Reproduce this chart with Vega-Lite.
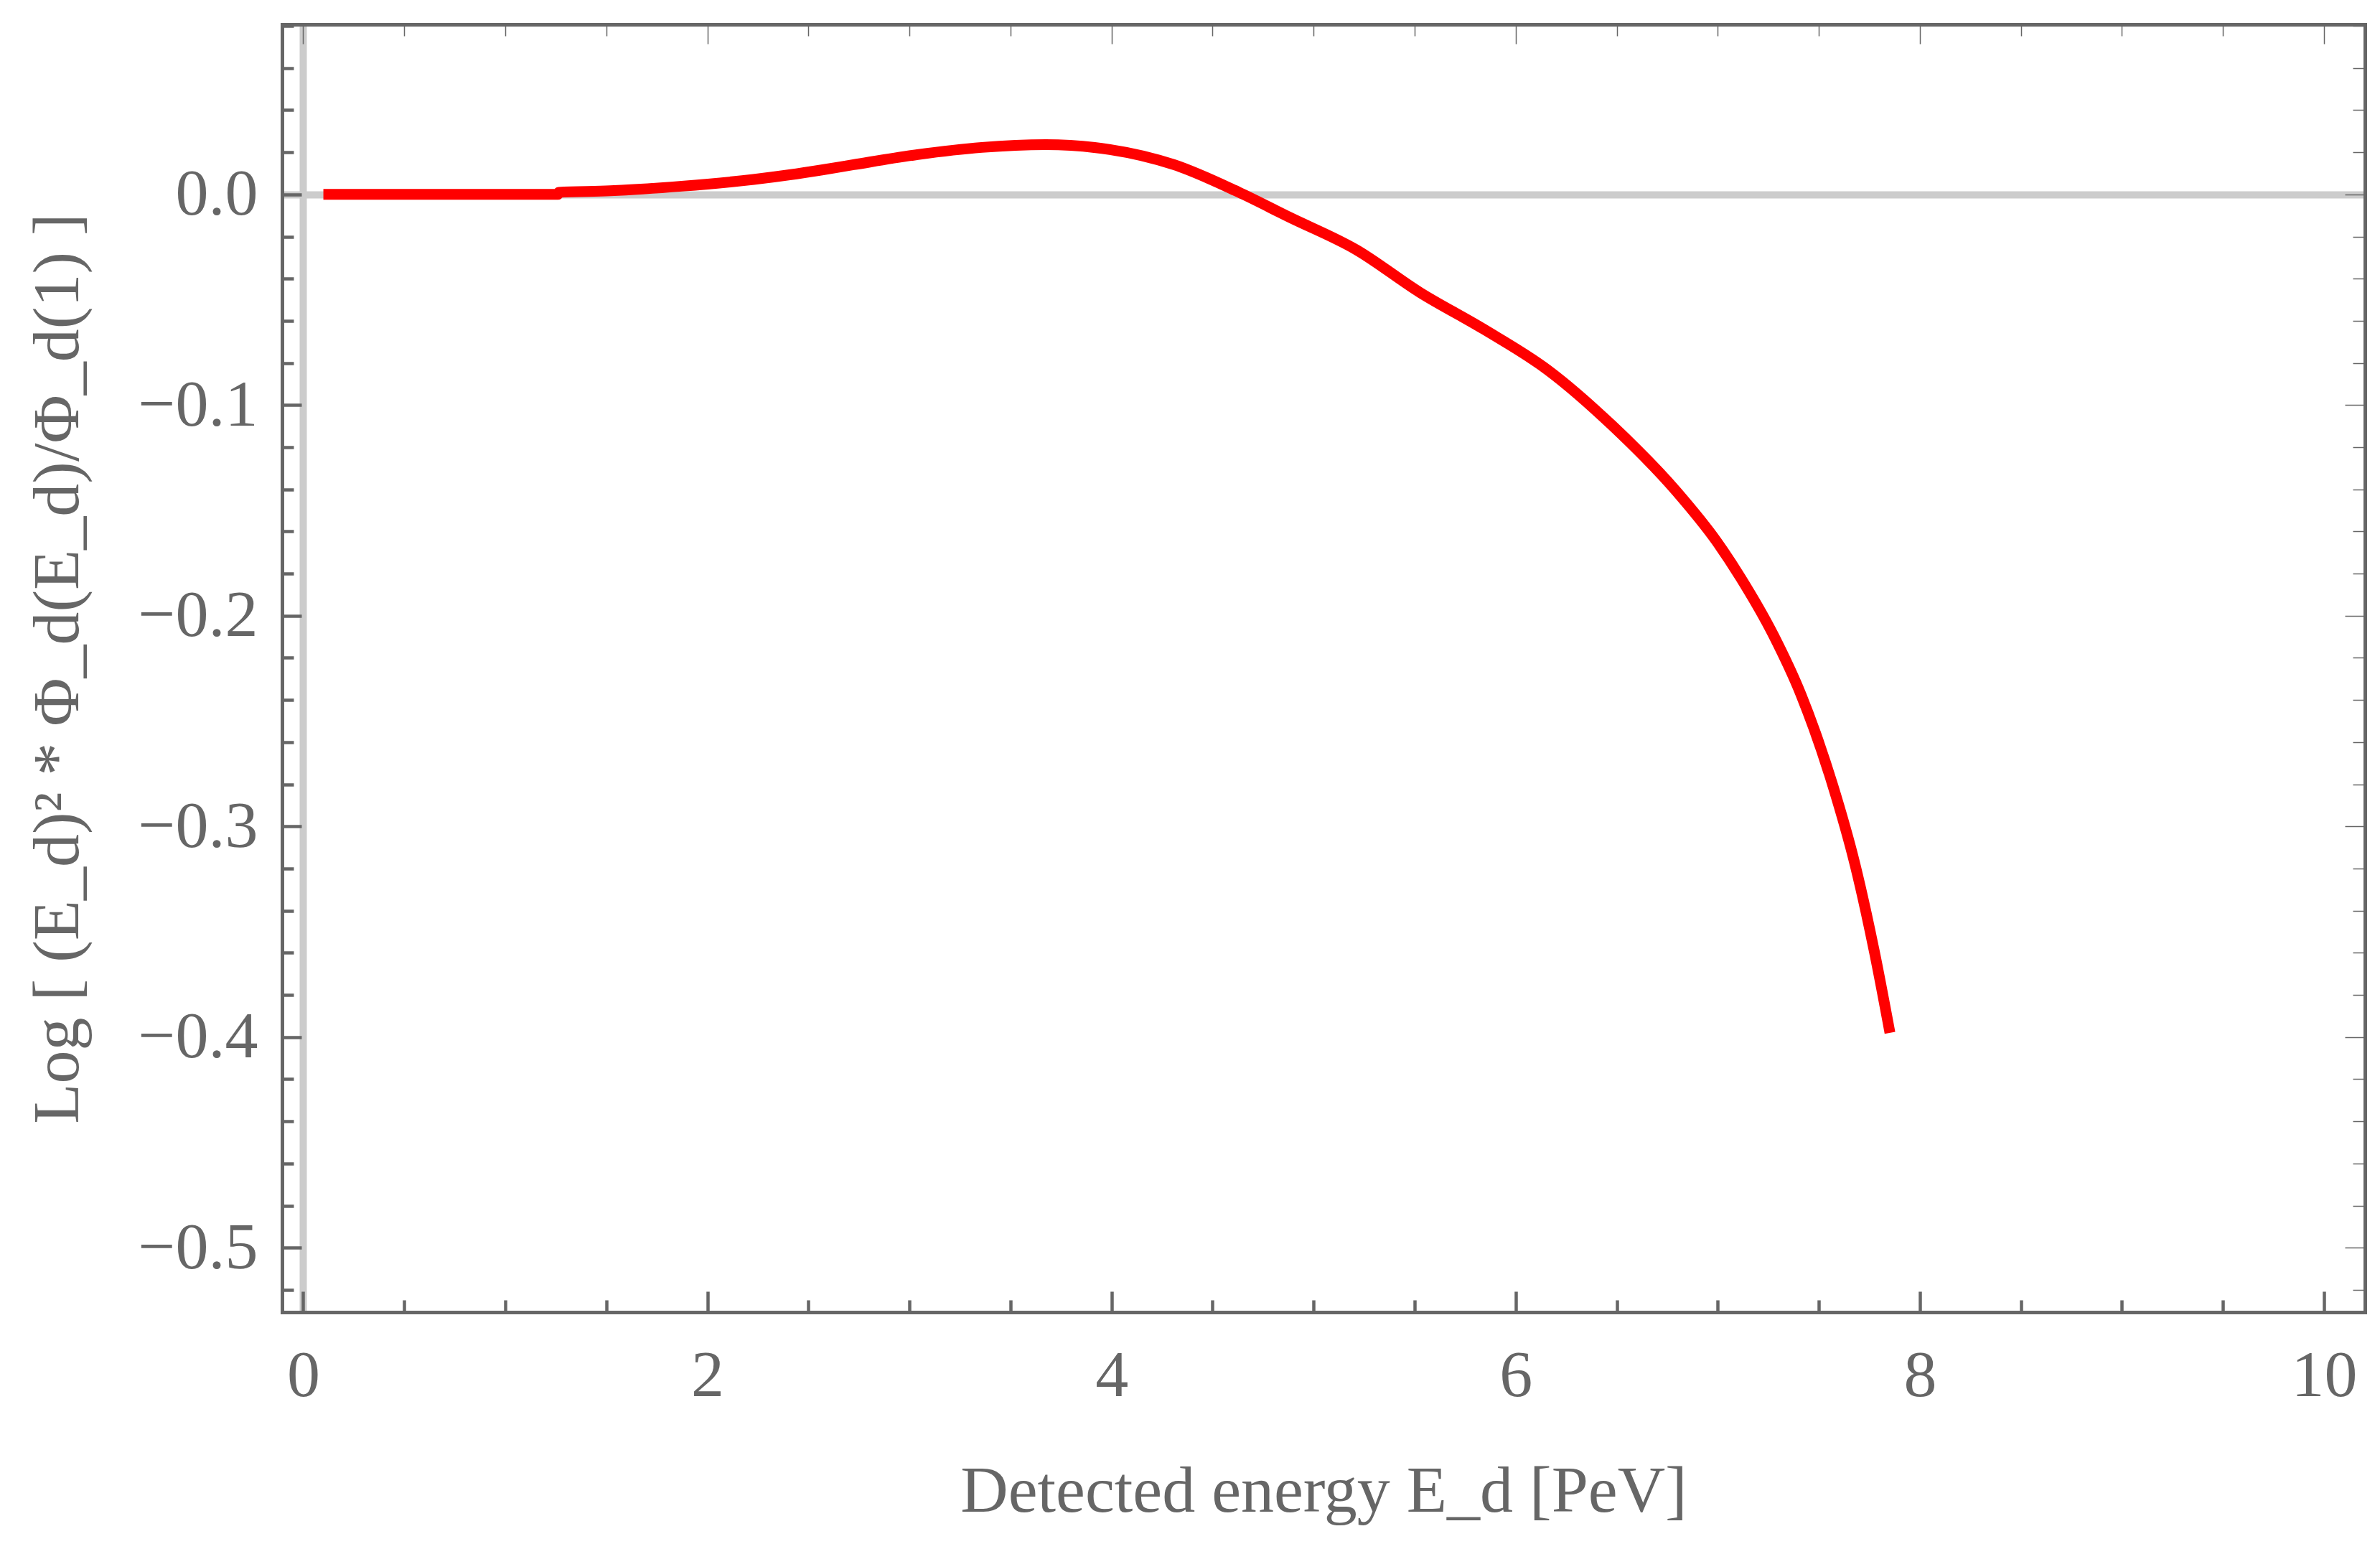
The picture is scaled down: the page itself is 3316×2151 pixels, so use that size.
{
  "$schema": "https://vega.github.io/schema/vega-lite/v6.json",
  "background": "white",
  "autosize": {"type": "none"},
  "padding": {"left": 393, "top": 34, "right": 21, "bottom": 323},
  "width": 2902,
  "height": 1794,
  "data": {
    "values": [
      {"E": 0.1, "v": 0.0},
      {"E": 0.7, "v": 0.0},
      {"E": 1.26, "v": 0.0},
      {"E": 1.265, "v": 0.001},
      {"E": 1.519, "v": 0.0017},
      {"E": 1.874, "v": 0.0039},
      {"E": 2.229, "v": 0.0071},
      {"E": 2.407, "v": 0.0093},
      {"E": 2.572, "v": 0.0117},
      {"E": 2.724, "v": 0.0141},
      {"E": 3.041, "v": 0.0189},
      {"E": 3.358, "v": 0.0223},
      {"E": 3.675, "v": 0.0236},
      {"E": 3.992, "v": 0.0213},
      {"E": 4.309, "v": 0.0141},
      {"E": 4.626, "v": 0.0012},
      {"E": 4.88, "v": -0.0108},
      {"E": 5.21, "v": -0.0262},
      {"E": 5.527, "v": -0.0466},
      {"E": 5.844, "v": -0.0641},
      {"E": 6.161, "v": -0.0835},
      {"E": 6.478, "v": -0.1097},
      {"E": 6.795, "v": -0.1409},
      {"E": 6.995, "v": -0.1648},
      {"E": 7.112, "v": -0.1818},
      {"E": 7.277, "v": -0.2095},
      {"E": 7.412, "v": -0.2375},
      {"E": 7.569, "v": -0.2805},
      {"E": 7.68, "v": -0.3184},
      {"E": 7.775, "v": -0.3595},
      {"E": 7.852, "v": -0.398}
    ]
  },
  "layer": [
    {
      "mark": {"type": "line", "opacity": 0},
      "encoding": {
        "x": {
          "field": "E",
          "type": "quantitative",
          "scale": {"domain": [-0.1044, 10.2024], "nice": false, "zero": false},
          "axis": {
            "orient": "top",
            "title": null,
            "labels": false,
            "domainColor": "#666666",
            "domainWidth": 5,
            "domainCap": "square",
            "values": [0, 0.5, 1, 1.5, 2, 2.5, 3, 3.5, 4, 4.5, 5, 5.5, 6, 6.5, 7, 7.5, 8, 8.5, 9, 9.5, 10],
            "tickColor": "#666666",
            "tickWidth": 1.5,
            "tickSize": {"condition": {"test": "datum.value % 2 === 0", "value": -27}, "value": -16},
            "grid": true,
            "gridColor": "#cccccc",
            "gridWidth": 10,
            "gridOpacity": {"condition": {"test": "datum.value === 0", "value": 1}, "value": 0}
          }
        },
        "y": {
          "field": "v",
          "type": "quantitative",
          "scale": {"domain": [-0.5306, 0.0807], "nice": false, "zero": false},
          "axis": {
            "orient": "right",
            "title": null,
            "labels": false,
            "domainColor": "#666666",
            "domainWidth": 5,
            "domainCap": "square",
            "values": [-0.52, -0.5, -0.48, -0.46, -0.44, -0.42, -0.4, -0.38, -0.36, -0.34, -0.32, -0.3, -0.28, -0.26, -0.24, -0.22, -0.2, -0.18, -0.16, -0.14, -0.12, -0.1, -0.08, -0.06, -0.04, -0.02, 0, 0.02, 0.04, 0.06, 0.08],
            "tickColor": "#666666",
            "tickWidth": 1.5,
            "tickSize": {"condition": {"test": "abs(datum.value * 10 - round(datum.value * 10)) < 0.001", "value": -28}, "value": -17},
            "grid": true,
            "gridColor": "#cccccc",
            "gridWidth": 10,
            "gridOpacity": {"condition": {"test": "abs(datum.value) < 0.000001", "value": 1}, "value": 0}
          }
        }
      }
    },
    {
      "mark": {"type": "line", "color": "#ff0000", "strokeWidth": 15, "interpolate": "monotone"},
      "encoding": {
        "x": {
          "field": "E",
          "type": "quantitative",
          "axis": {
            "orient": "bottom",
            "title": "Detected energy E_d [PeV]",
            "titleFont": "Liberation Serif",
            "titleFontSize": 92,
            "titleFontWeight": "normal",
            "titleColor": "#666666",
            "titleBaseline": "alphabetic",
            "titleAlign": "center",
            "titleX": 1451,
            "titleY": 277,
            "domainColor": "#666666",
            "domainWidth": 5,
            "domainCap": "square",
            "values": [0, 0.5, 1, 1.5, 2, 2.5, 3, 3.5, 4, 4.5, 5, 5.5, 6, 6.5, 7, 7.5, 8, 8.5, 9, 9.5, 10],
            "tickColor": "#666666",
            "tickWidth": 4.5,
            "tickSize": {"condition": {"test": "datum.value % 2 === 0", "value": -29}, "value": -17},
            "labelExpr": "datum.value % 2 === 0 ? format(datum.value, 'd') : ''",
            "labelFont": "Liberation Serif",
            "labelFontSize": 92,
            "labelColor": "#666666",
            "labelBaseline": "alphabetic",
            "labelPadding": 145,
            "labelOverlap": false,
            "labelFlush": false,
            "labelBound": false,
            "grid": false
          }
        },
        "y": {
          "field": "v",
          "type": "quantitative",
          "axis": {
            "orient": "left",
            "title": "Log [ (E_d)² * Φ_d(E_d)/Φ_d(1) ]",
            "titleFont": "Liberation Serif",
            "titleFontSize": 92,
            "titleFontWeight": "normal",
            "titleColor": "#666666",
            "titleAngle": 270,
            "titleBaseline": "alphabetic",
            "titleAlign": "center",
            "titleX": -285,
            "titleY": 897,
            "domainColor": "#666666",
            "domainWidth": 5,
            "domainCap": "square",
            "values": [-0.52, -0.5, -0.48, -0.46, -0.44, -0.42, -0.4, -0.38, -0.36, -0.34, -0.32, -0.3, -0.28, -0.26, -0.24, -0.22, -0.2, -0.18, -0.16, -0.14, -0.12, -0.1, -0.08, -0.06, -0.04, -0.02, 0, 0.02, 0.04, 0.06, 0.08],
            "tickColor": "#666666",
            "tickWidth": 4.5,
            "tickSize": {"condition": {"test": "abs(datum.value * 10 - round(datum.value * 10)) < 0.001", "value": -27}, "value": -16},
            "labelExpr": "abs(datum.value * 10 - round(datum.value * 10)) < 0.001 ? format(datum.value, '.1f') : ''",
            "labelFont": "Liberation Serif",
            "labelFontSize": 92,
            "labelColor": "#666666",
            "labelAlign": "right",
            "labelBaseline": "middle",
            "labelPadding": 61,
            "labelOverlap": false,
            "labelFlush": false,
            "labelBound": false,
            "grid": false
          }
        }
      }
    }
  ],
  "resolve": {"axis": {"x": "independent", "y": "independent"}},
  "config": {"view": {"stroke": null}}
}
